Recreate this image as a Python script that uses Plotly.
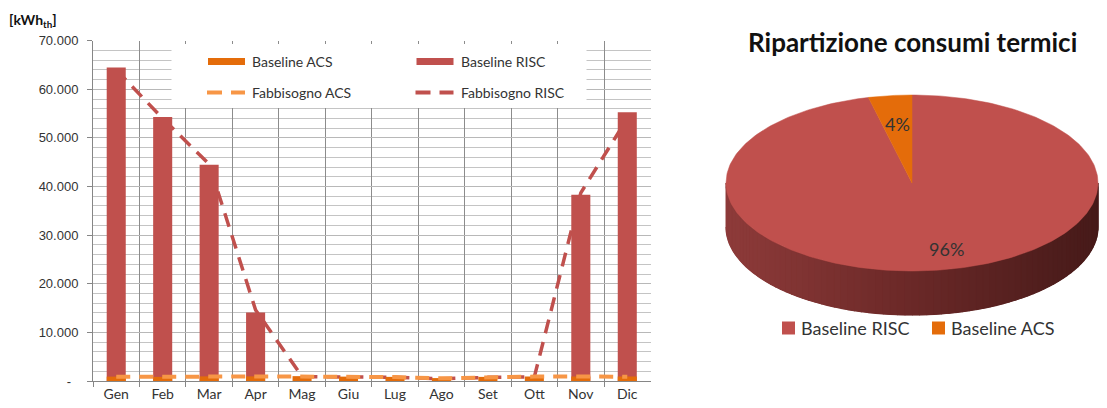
import numpy as np
import plotly.graph_objects as go

# ---------------- data ----------------
months = ["Gen", "Feb", "Mar", "Apr", "Mag", "Giu", "Lug", "Ago", "Set", "Ott", "Nov", "Dic"]
baseline_risc = [64500, 54300, 44500, 14100, 0, 0, 0, 0, 0, 0, 38300, 55300]
baseline_acs = [900, 850, 950, 950, 1000, 900, 850, 600, 850, 900, 950, 900]
fabbisogno_risc = [64000, 54000, 44600, 14600, 900, 800, 750, 450, 750, 850, 38700, 54000]
fabbisogno_acs = [850, 800, 900, 950, 950, 850, 800, 550, 800, 900, 950, 850]

y_tick_vals = [0, 10000, 20000, 30000, 40000, 50000, 60000, 70000]
y_tick_text = ["-\u00a0\u00a0", "10.000", "20.000", "30.000", "40.000", "50.000", "60.000", "70.000"]

pie_labels = ["Baseline RISC", "Baseline ACS"]
pie_values = [sum(baseline_risc), sum(baseline_acs)]

# ---------------- style ----------------
W, H = 1107, 408
RED = "#C0504D"
ORANGE = "#E46C0A"
LIGHT_ORANGE = "#F79646"
TEXT = "#333333"
CAL = "Lato"
ARIAL = "Liberation Sans"


def px(x):
    return x / W


def py(y):
    return 1 - y / H


fig = go.Figure()

# demand line for heating sits on the base subplot (behind the columns)
fig.add_trace(go.Scatter(
    x=months, y=fabbisogno_risc, mode="lines", name="Fabbisogno RISC",
    line=dict(color=RED, width=3.5, dash="14px,9px"),
    xaxis="x", yaxis="y", showlegend=False, hoverinfo="skip"))

# columns on an overlaid subplot so they cover the heating line
fig.add_trace(go.Bar(
    x=months, y=baseline_risc, name="Baseline RISC", marker=dict(color=RED, line=dict(width=0)),
    width=0.41, xaxis="x2", yaxis="y2", showlegend=False))
fig.add_trace(go.Bar(
    x=months, y=baseline_acs, name="Baseline ACS", marker=dict(color=ORANGE, line=dict(width=0)),
    width=0.41, xaxis="x2", yaxis="y2", showlegend=False))
fig.add_trace(go.Scatter(
    x=months, y=fabbisogno_acs, mode="lines", name="Fabbisogno ACS",
    line=dict(color=LIGHT_ORANGE, width=4, dash="14px,9px"),
    xaxis="x2", yaxis="y2", showlegend=False, hoverinfo="skip"))

# ---------------- 3D-look pie ----------------
CX, CY, RX, RY, DEPTH = 912.0, 183.0, 186.0, 88.0, 44.0
k = RY / RX
d = DEPTH / RX
total = sum(pie_values)
shares = [v / total for v in pie_values]
f_acs = shares[1]

# side wall, shaded from left to right
stops = [(0.0, (142, 59, 58)), (0.45, (110, 42, 41)), (1.0, (70, 26, 25))]


def shade(t):
    for (t0, c0), (t1, c1) in zip(stops[:-1], stops[1:]):
        if t <= t1:
            a = (t - t0) / (t1 - t0)
            return "rgb(%d,%d,%d)" % tuple(round(c0[i] + a * (c1[i] - c0[i])) for i in range(3))
    return "rgb(%d,%d,%d)" % stops[-1][1]


# solid backing for the whole wall so the shaded strips leave no light seams
phi_all = np.linspace(0, np.pi, 200)
wx = -np.cos(phi_all)
wy = -k * np.sin(phi_all)
fig.add_trace(go.Scatter(
    x=np.concatenate([wx, wx[::-1]]), y=np.concatenate([wy, wy[::-1] - d]),
    mode="lines", fill="toself", fillcolor=shade(0.5), line=dict(color=shade(0.5), width=0.5),
    xaxis="x3", yaxis="y3", showlegend=False, hoverinfo="skip"))

N = 80
phis = np.linspace(0, np.pi, N + 1)
for i in range(N):
    p = np.linspace(phis[i], phis[i + 1], 4)
    xs = -np.cos(p)
    ys = -k * np.sin(p)
    px_ = np.concatenate([xs, xs[::-1]])
    py_ = np.concatenate([ys, ys[::-1] - d])
    c = shade((xs.mean() + 1) / 2)
    fig.add_trace(go.Scatter(
        x=px_, y=py_, mode="lines", fill="toself", fillcolor=c,
        line=dict(color=c, width=1.2), xaxis="x3", yaxis="y3",
        showlegend=False, hoverinfo="skip"))

# top face slices (clockwise from 12 o'clock for RISC, counter-clockwise for ACS)
slices = [
    (0.0, 2 * np.pi * shares[0], RED),
    (-2 * np.pi * f_acs, 0.0, ORANGE),
]
for a0, a1, col in slices:
    th = np.linspace(a0, a1, 300)
    xs = np.concatenate([[0], np.sin(th), [0]])
    ys = np.concatenate([[0], k * np.cos(th), [0]])
    fig.add_trace(go.Scatter(
        x=xs, y=ys, mode="lines", fill="toself", fillcolor=col,
        line=dict(color=col, width=0.5), xaxis="x3", yaxis="y3",
        showlegend=False, hoverinfo="skip"))

annotations = []
label_r = 0.68
mid_angles = [np.pi * shares[0], -np.pi * f_acs]
label_shift = [(20, -7), (0, 0)]
for share, ang, (dx, dy) in zip(shares, mid_angles, label_shift):
    annotations.append(dict(
        x=label_r * np.sin(ang), y=label_r * k * np.cos(ang), xref="x3", yref="y3",
        xanchor="center", yanchor="middle", xshift=dx, yshift=dy,
        text="%d%%" % round(share * 100), showarrow=False,
        font=dict(family=CAL, size=18, color=TEXT)))

annotations.append(dict(
    x=px(912), y=py(42), xref="paper", yref="paper", xanchor="center", yanchor="middle",
    text="<b>Ripartizione consumi termici</b>",
    showarrow=False, font=dict(family=CAL, size=26, color="#111111")))

# unit label of the column chart
annotations.append(dict(
    x=px(7), y=py(20), xref="paper", yref="paper", xanchor="left", yanchor="middle",
    text="<b>[kWh<sub>th</sub>]</b>", showarrow=False,
    font=dict(family=CAL, size=14, color="#111111")))

shapes = []

# legend of the column chart
shapes.append(dict(type="rect", xref="paper", yref="paper", x0=px(171.5), x1=px(586.5),
                   y0=py(108), y1=py(44), fillcolor="white", line=dict(width=0), layer="above"))
leg_cols = [208, 416.5]
leg_rows = [61.5, 92.5]
leg_items = [
    ("Baseline ACS", "bar", ORANGE, 0, 0),
    ("Baseline RISC", "bar", RED, 1, 0),
    ("Fabbisogno ACS", "line", LIGHT_ORANGE, 0, 1),
    ("Fabbisogno RISC", "line", RED, 1, 1),
]
for name, kind, col, ci, ri in leg_items:
    x0 = leg_cols[ci]
    yc = leg_rows[ri]
    if kind == "bar":
        shapes.append(dict(type="rect", xref="paper", yref="paper", x0=px(x0), x1=px(x0 + 37),
                           y0=py(yc + 3.5), y1=py(yc - 3.5), fillcolor=col,
                           line=dict(width=0), layer="above"))
    else:
        shapes.append(dict(type="line", xref="paper", yref="paper", x0=px(x0 - 1), x1=px(x0 + 37),
                           y0=py(yc), y1=py(yc), line=dict(color=col, width=4, dash="15px,9px"),
                           layer="above"))
    annotations.append(dict(
        x=px(x0 + 42), y=py(yc), xref="paper", yref="paper", xanchor="left", yanchor="middle",
        text=name, showarrow=False, font=dict(family=CAL, size=14, color=TEXT)))

# legend of the pie
pie_leg = [(782, RED), (932, ORANGE)]
for (x0, col), name in zip(pie_leg, pie_labels):
    shapes.append(dict(type="rect", xref="paper", yref="paper", x0=px(x0), x1=px(x0 + 13),
                       y0=py(334.5), y1=py(321.5), fillcolor=col, line=dict(width=0)))
    annotations.append(dict(
        x=px(x0 + 17), y=py(328), xref="paper", yref="paper", xanchor="left", yanchor="middle",
        text=name, showarrow=False, font=dict(family=CAL, size=18, color=TEXT)))

# ---------------- axes ----------------
x_dom = [px(93), px(650.5)]
y_dom = [py(381), py(40.7)]

common_x = dict(type="category", categoryorder="array", categoryarray=months,
                range=[-0.5, len(months) - 0.5], fixedrange=True)
common_y = dict(range=[0, 70000], fixedrange=True)

fig.update_layout(
    width=W, height=H, autosize=False,
    margin=dict(l=0, r=0, t=0, b=0, pad=0, autoexpand=False),
    paper_bgcolor="white", plot_bgcolor="white",
    barmode="overlay", showlegend=False,
    xaxis=dict(
        domain=x_dom, anchor="y", **common_x, automargin=False,
        tickson="boundaries", ticks="outside", ticklen=5, tickcolor="#868686",
        showline=True, linecolor="#868686", linewidth=1,
        showgrid=True, gridcolor="#8C8C8C", gridwidth=1,
        tickfont=dict(family=CAL, size=14, color=TEXT)),
    yaxis=dict(
        domain=y_dom, anchor="x", **common_y, automargin=False,
        tickmode="array", tickvals=y_tick_vals, ticktext=y_tick_text,
        ticks="outside", ticklen=5, tickcolor="#868686", ticklabelstandoff=6,
        showline=True, linecolor="#868686", linewidth=1, zeroline=False,
        showgrid=True, gridcolor="#B8B8B8", gridwidth=1,
        minor=dict(tickmode="linear", tick0=0, dtick=2000, showgrid=True,
                   gridcolor="#C4C4C4", gridwidth=1, ticks=""),
        tickfont=dict(family=ARIAL, size=13, color=TEXT)),
    xaxis2=dict(overlaying="x", anchor="y2", visible=False, automargin=False, **common_x),
    yaxis2=dict(overlaying="y", anchor="x2", visible=False, automargin=False, **common_y),
    xaxis3=dict(domain=[px(700), 1.0], anchor="y3", visible=False, fixedrange=True,
                automargin=False, range=[(700 - CX) / RX, (W - CX) / RX]),
    yaxis3=dict(domain=[0.0, 1.0], anchor="x3", visible=False, fixedrange=True,
                automargin=False, range=[(CY - H) / RX, CY / RX]),
    shapes=shapes,
    annotations=annotations,
)

fig.write_html("out.html")
